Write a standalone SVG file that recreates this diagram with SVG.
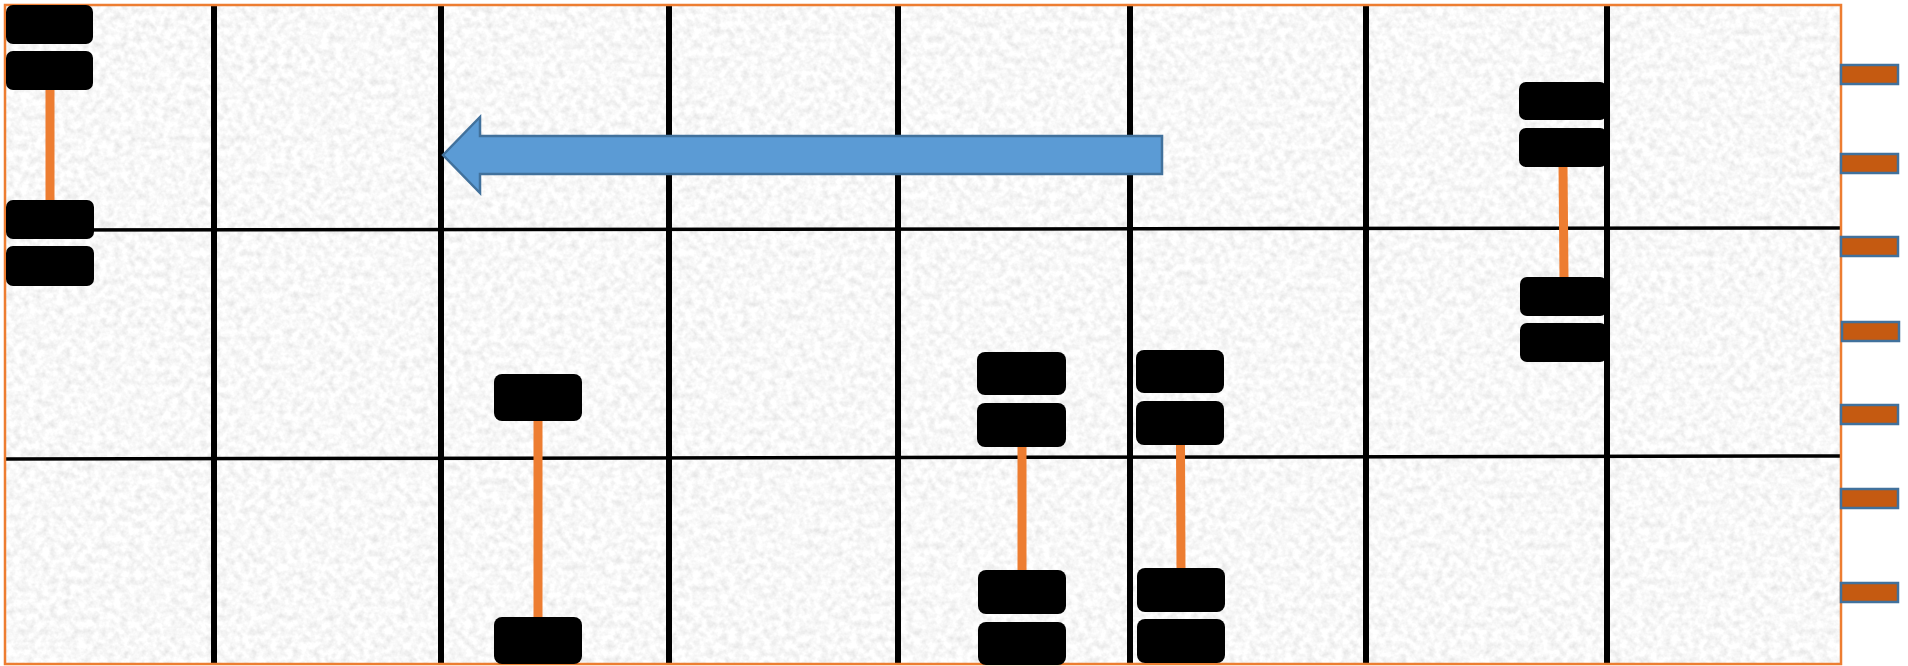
<svg xmlns="http://www.w3.org/2000/svg" width="1908" height="666" viewBox="0 0 1908 666">
  <defs>
    <filter id="paper" x="0" y="0" width="100%" height="100%">
      <feTurbulence type="fractalNoise" baseFrequency="0.14" numOctaves="3" seed="7" result="n"/>
      <feColorMatrix in="n" type="matrix" values="0.38 0 0 0 0.75  0.38 0 0 0 0.75  0.38 0 0 0 0.75  0 0 0 0 1"/>
    </filter>
    <style>
      .blk { fill: #000000; }
      .tab { fill: #c55a11; stroke: #41719c; stroke-width: 2.5; }
      .vl { stroke: #000000; stroke-width: 6; }
      .hl { stroke: #000000; stroke-width: 3.5; }
      .link { stroke: #ed7d31; stroke-width: 9; }
    </style>
  </defs>

  <rect x="0" y="0" width="1908" height="666" fill="#ffffff"/>
  <rect x="5" y="5" width="1836" height="659" filter="url(#paper)"/>

  <g id="grid">
    <line class="hl" x1="5" y1="230" x2="1841" y2="228"/>
    <line class="hl" x1="5" y1="459" x2="1841" y2="456"/>
    <line class="vl" x1="214" y1="5" x2="214" y2="664"/>
    <line class="vl" x1="441" y1="5" x2="441" y2="664"/>
    <line class="vl" x1="669" y1="5" x2="669" y2="664"/>
    <line class="vl" x1="898" y1="5" x2="898" y2="664"/>
    <line class="vl" x1="1130" y1="5" x2="1130" y2="664"/>
    <line class="vl" x1="1366" y1="5" x2="1366" y2="664"/>
    <line class="vl" x1="1607" y1="5" x2="1607" y2="664"/>
  </g>

  <rect x="5" y="5" width="1836" height="659" fill="none" stroke="#ed7d31" stroke-width="2.5"/>

  <g id="arrow">
    <polygon points="443,155 480,117 480,136 1162,136 1162,174 480,174 480,193" fill="#5b9bd5" stroke="#41719c" stroke-width="2.5" stroke-linejoin="miter"/>
  </g>

  <g id="connectors">
    <line class="link" x1="50" y1="88" x2="50" y2="202"/>
    <line class="link" x1="538" y1="419" x2="538" y2="619"/>
    <line class="link" x1="1022" y1="445" x2="1022" y2="572"/>
    <line class="link" x1="1180.5" y1="443" x2="1181" y2="570"/>
    <line class="link" x1="1563" y1="165" x2="1564" y2="279"/>
  </g>

  <g id="stack-a">
    <rect class="blk" x="6" y="5" width="87" height="39" rx="7"/>
    <rect class="blk" x="6" y="51" width="87" height="39" rx="7"/>
    <rect class="blk" x="6" y="200" width="88" height="39" rx="7"/>
    <rect class="blk" x="6" y="246" width="88" height="40" rx="7"/>
  </g>

  <g id="stack-b">
    <rect class="blk" x="494" y="374" width="88" height="47" rx="8"/>
    <rect class="blk" x="494" y="617" width="88" height="47" rx="8"/>
  </g>

  <g id="stack-c">
    <rect class="blk" x="977" y="352" width="89" height="43" rx="8"/>
    <rect class="blk" x="977" y="403" width="89" height="44" rx="8"/>
    <rect class="blk" x="978" y="570" width="88" height="44" rx="8"/>
    <rect class="blk" x="978" y="622" width="88" height="43" rx="8"/>
  </g>

  <g id="stack-d">
    <rect class="blk" x="1136" y="350" width="88" height="43" rx="8"/>
    <rect class="blk" x="1136" y="401" width="88" height="44" rx="8"/>
    <rect class="blk" x="1137" y="568" width="88" height="44" rx="8"/>
    <rect class="blk" x="1137" y="619" width="88" height="44" rx="8"/>
  </g>

  <g id="stack-e">
    <rect class="blk" x="1519" y="82" width="88" height="38" rx="7"/>
    <rect class="blk" x="1519" y="128" width="88" height="39" rx="7"/>
    <rect class="blk" x="1520" y="277" width="87" height="39" rx="7"/>
    <rect class="blk" x="1520" y="323" width="87" height="39" rx="7"/>
  </g>

  <g id="tabs">
    <rect class="tab" x="1841" y="65" width="57" height="19"/>
    <rect class="tab" x="1841" y="154" width="57" height="19"/>
    <rect class="tab" x="1841" y="237" width="57" height="19"/>
    <rect class="tab" x="1842" y="322" width="57" height="19"/>
    <rect class="tab" x="1841" y="405" width="57" height="19"/>
    <rect class="tab" x="1841" y="489" width="57" height="19"/>
    <rect class="tab" x="1841" y="583" width="57" height="19"/>
  </g>
</svg>
